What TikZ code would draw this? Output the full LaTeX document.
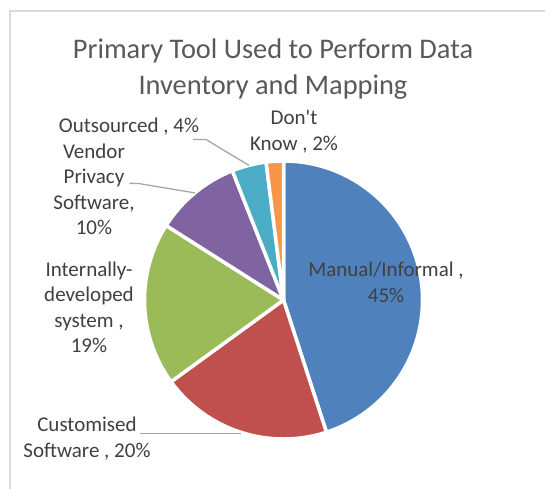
\documentclass[tikz,border=0pt]{standalone}
\usepackage{fontspec}
\setmainfont{Carlito}[Ligatures=TeXOff]
\usetikzlibrary{calc}
\definecolor{sblue}{HTML}{4F81BD}
\definecolor{sred}{HTML}{C0504D}
\definecolor{sgreen}{HTML}{9BBB59}
\definecolor{spurple}{HTML}{8064A2}
\definecolor{steal}{HTML}{4BACC6}
\definecolor{sorange}{HTML}{F79646}
\definecolor{lblgray}{HTML}{404040}
\definecolor{titlegray}{HTML}{595959}
\definecolor{framegray}{HTML}{D9D9D9}
\definecolor{leadergray}{HTML}{A6A6A6}
\tikzset{
  slice/.style={draw=white, line width=3.5pt, line join=round},
  lbl/.style={inner sep=0pt, anchor=base, text=lblgray, font=\fontsize{21}{25.6}\selectfont},
  ttl/.style={inner sep=0pt, anchor=base, text=titlegray, font=\fontsize{28.4}{36.7}\selectfont},
  leader/.style={draw=leadergray, line width=1.3pt},
  frameline/.style={draw=framegray, line width=1.5pt}
}
\begin{document}
\begin{tikzpicture}[x=1pt,y=1pt]
\useasboundingbox (0,0) rectangle (545,488);
\fill[white] (0,0) rectangle (545,488);
% chart frame (left and top edges visible)
\draw[frameline] (9.8,-2) -- (9.8,477.2) -- (547,477.2);
% title
\node[ttl] (title) at (273,429.7) {\begin{tabular}[t]{@{}c@{}}Primary Tool Used to Perform Data\\Inventory and Mapping\end{tabular}};
% pie
\coordinate (c) at (283.5,188);
\def\R{139}
\fill[sblue,slice]   (c) -- ($(c)+(90:\R)$) arc[start angle=90, end angle=-72, radius=\R] -- cycle;
\fill[sred,slice]    (c) -- ($(c)+(-72:\R)$) arc[start angle=-72, end angle=-144, radius=\R] -- cycle;
\fill[sgreen,slice]  (c) -- ($(c)+(-144:\R)$) arc[start angle=-144, end angle=-212.4, radius=\R] -- cycle;
\fill[spurple,slice] (c) -- ($(c)+(-212.4:\R)$) arc[start angle=-212.4, end angle=-248.4, radius=\R] -- cycle;
\fill[steal,slice]   (c) -- ($(c)+(-248.4:\R)$) arc[start angle=-248.4, end angle=-262.8, radius=\R] -- cycle;
\fill[sorange,slice] (c) -- ($(c)+(-262.8:\R)$) arc[start angle=-262.8, end angle=-270, radius=\R] -- cycle;
% slice mid points for leaders
\coordinate (mteal) at ($(c)+(104.4:\R)$);
\coordinate (mpurple) at ($(c)+(129.6:\R)$);
\coordinate (mred) at ($(c)+(-108:\R)$);
% labels
\node[lbl] (lman) at (386,211.3) {\begin{tabular}[t]{@{}c@{}}Manual/Informal ,\\45\%\end{tabular}};
\node[lbl] (ldk) at (294,363.5) {\begin{tabular}[t]{@{}c@{}}Don't\\Know , 2\%\end{tabular}};
\node[lbl] (lout) at (129,355) {Outsourced , 4\%};
\node[lbl] (lven) at (94,330) {\begin{tabular}[t]{@{}c@{}}Vendor\\Privacy\\Software,\\10\%\end{tabular}};
\node[lbl] (lint) at (89,212) {\begin{tabular}[t]{@{}c@{}}Internally-\\developed\\system ,\\19\%\end{tabular}};
\node[lbl] (lcus) at (87,56.3) {\begin{tabular}[t]{@{}c@{}}Customised\\Software , 20\%\end{tabular}};
% leader lines
\coordinate (aout) at (193,348.5);
\coordinate (aven) at (129.5,304.7);
\coordinate (acus) at (140,54.7);
\draw[leader] (aout) -- ++(13,0) -- (mteal);
\draw[leader] (aven) -- ++(9,-0.2) -- (mpurple);
\draw[leader] (acus) -- (acus -| mred);
\end{tikzpicture}
\end{document}
